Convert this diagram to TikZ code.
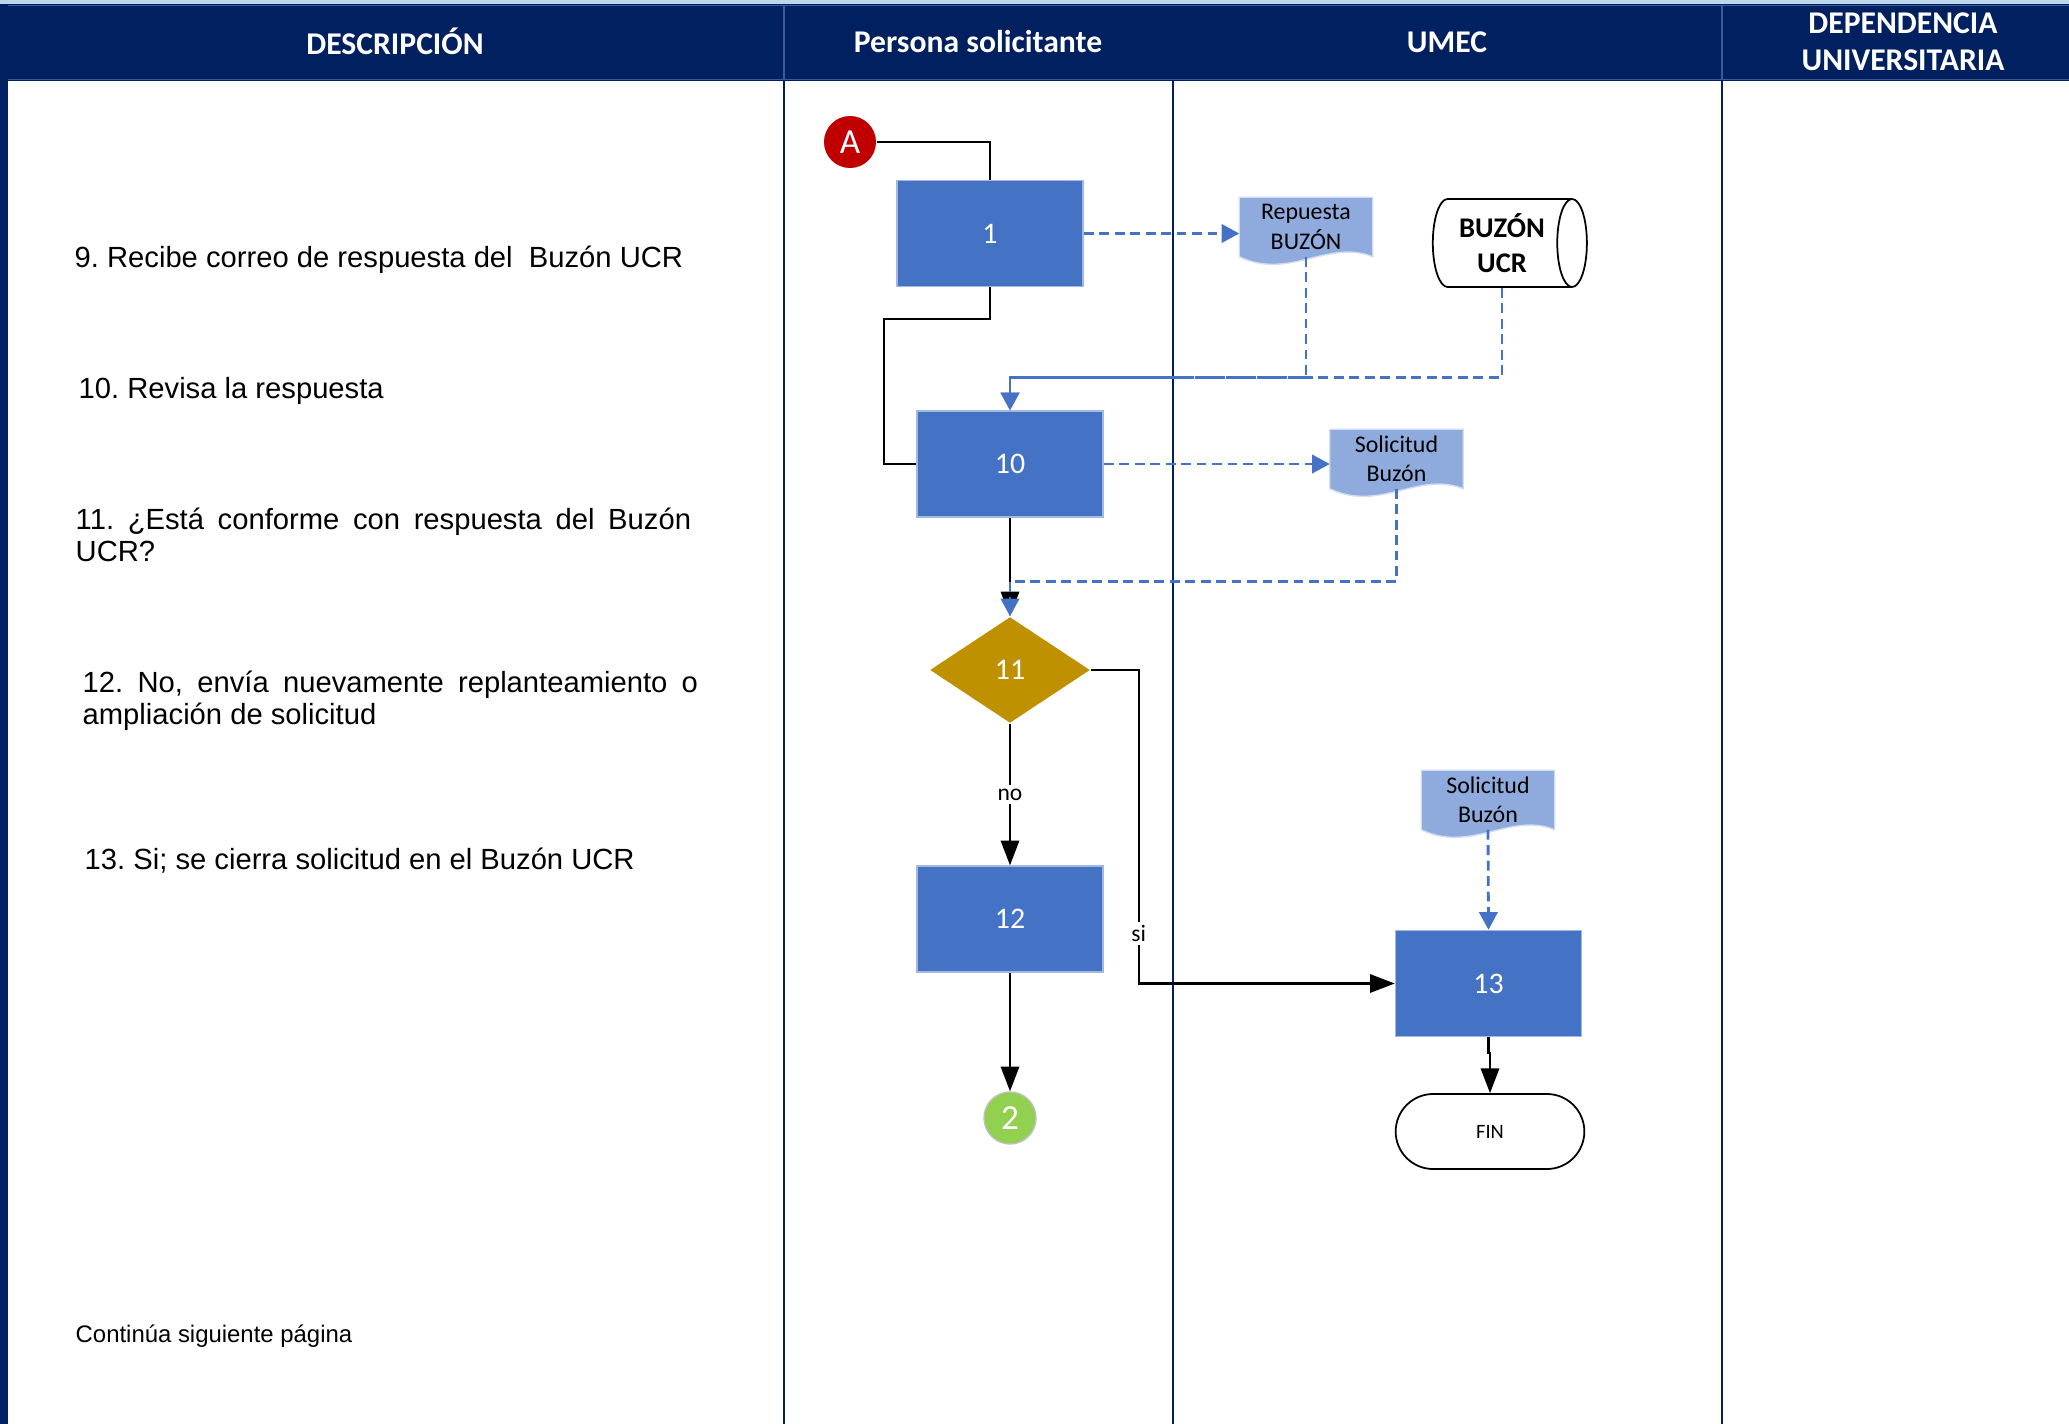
\documentclass[tikz,border=0pt]{standalone}
\usepackage{fontspec}
\setmainfont{Carlito}
\newfontfamily\arialfont{Liberation Sans}
\usetikzlibrary{arrows.meta,shapes.geometric,shapes.misc,backgrounds,calc}
\definecolor{navy}{HTML}{002060}
\definecolor{topband}{HTML}{BDD7EE}
\definecolor{headline}{HTML}{3A5C9C}
\definecolor{boxblue}{HTML}{4472C4}
\definecolor{docblue}{HTML}{8FAADC}
\definecolor{decgold}{HTML}{BF9000}
\definecolor{conred}{HTML}{C00000}
\definecolor{congreen}{HTML}{92D050}
\hyphenpenalty=10000
\exhyphenpenalty=10000
\frenchspacing
\tikzset{
ARC/.style ={draw=black,line width=0.6pt},
ARROW/.style ={ARC,-{Triangle[length=7pt,width=5.2pt]}},
DASHARC/.style ={draw=boxblue,line width=0.8pt,dash pattern=on 2.8pt off 1.6pt,-{Triangle[length=5pt,width=5.2pt]}},
LANE/.style ={draw=navy,line width=0.6pt},
HEAD/.style ={text=white,align=center,font=\bfseries\fontsize{9}{10.5}\selectfont},
DESC/.style ={anchor=west,inner sep=0pt,font=\arialfont\fontsize{8.3}{9.1}\selectfont},
PAR/.style ={DESC,anchor=north west,text width=6.15cm,align=justify},
BOX/.style ={rectangle,fill=boxblue,draw=boxblue!50!white,line width=0.4pt,minimum width=1.86cm,minimum height=1.06cm,text=white,font=\fontsize{8.5}{10}\selectfont},
DEC/.style ={diamond,fill=decgold,minimum width=1.6cm,minimum height=1.06cm,inner sep=0pt,text=white,font=\fontsize{8.5}{10}\selectfont},
DOC/.style ={rectangle,minimum width=1.32cm,minimum height=0.58cm,inner sep=0pt,align=center,font=\fontsize{6.8}{8.3}\selectfont},
DOCFILL/.style ={fill=docblue,draw=docblue!40!white,line width=0.4pt},
CYL/.style ={cylinder,draw,line width=0.5pt,fill=white,aspect=0.5,minimum width=0.88cm,minimum height=1.54cm,inner sep=0pt,align=center,font=\bfseries\fontsize{8.1}{10}\selectfont},
TERM/.style ={rounded rectangle,draw,line width=0.5pt,minimum width=2.12cm,minimum height=0.75cm,font=\fontsize{5.8}{7}\selectfont},
CON/.style ={circle,minimum size=0.52cm,inner sep=0pt,text=white,font=\fontsize{10}{12}\selectfont},
LBL/.style ={fill=white,inner sep=1pt,font=\fontsize{6.7}{8}\selectfont},
}

\begin{document}
\begin{tikzpicture}[x=0.01cm,y=-0.01cm] %Buzon UCR, pasos 9 a 13
\useasboundingbox (0,0) rectangle (2069,1424);
	\fill[topband] (0,0) rectangle (2069,4);
	\fill[navy] (0,4) rectangle (2069,81);
	\fill[navy] (0,4) rectangle (8,1424);
	\draw[headline,line width=0.5pt] (8,5.5) -- (2069,5.5) (8,79.5) -- (2069,79.5) (784,5) -- (784,80) (1722,5) -- (1722,80);
	\draw[LANE] (784,81) -- (784,1424) (1173,81) -- (1173,1424) (1722,81) -- (1722,1424);
	\node[HEAD] (hdesc) at (395,41) {DESCRIPCIÓN};
	\node[HEAD] (hpers) at (978,42) {Persona solicitante};
	\node[HEAD] (humec) at (1447,42) {UMEC};
	\node[HEAD] (hdep) at (1903,42) {DEPENDENCIA\\UNIVERSITARIA};
% descripcion
	\node[DESC] (t9) at (74,260) {9. Recibe correo de respuesta del\ \ Buzón UCR};
	\node[DESC] (t10) at (78,391) {10. Revisa la respuesta};
	\node[PAR] (t11) at (75,507) {11. ¿Está conforme con respuesta del Buzón UCR?};
	\node[PAR] (t12) at (82,670) {12. No, envía nuevamente replanteamiento o ampliación de solicitud};
	\node[DESC] (t13) at (84,861) {13. Si; se cierra solicitud en el Buzón UCR};
	\node[DESC,font=\arialfont\fontsize{6.8}{8}\selectfont] (cont) at (75,1336) {Continúa siguiente página};
% flujo
	\node[CON,fill=conred] (A) at (850,142) {A};
	\node[BOX] (b1) at (990,233.5) {1};
	\node[DOC] (d1) at (1306,227) {Repuesta\\BUZÓN};
	\node[CYL] (cyl) at (1502,243) {BUZÓN\\UCR};
	\node[BOX] (b10) at (1010,464) {10};
	\node[DOC] (d2) at (1396.5,459) {Solicitud\\Buzón};
	\node[DEC] (dec) at (1010,670) {11};
	\node[BOX] (b12) at (1010,919) {12};
	\node[CON,fill=congreen,draw=gray!50] (c2) at (1010,1118) {2};
	\node[DOC] (d3) at (1488,800) {Solicitud\\Buzón};
	\node[BOX] (b13) at (1488.5,983.5) {13};
	\node[TERM] (fin) at (1490,1131.5) {FIN};
\begin{scope}[on background layer]
	\foreach \d in {d1,d2,d3}
		\path[DOCFILL] (\d.north west) -- (\d.north east) -- (\d.south east) .. controls +(-45,-18) and +(50,24) .. (\d.south west) -- cycle;
\end{scope}
	\draw[ARC] (A.east) -| (b1.north);
	\draw[DASHARC] (b1.east) -- (b1.east -| d1.west);
	\draw[DASHARC] (d1.south) |- ($(b10.north)+(0,-33)$) -- (b10.north);
	\draw[DASHARC] (cyl.south) |- ($(b10.north)+(0,-33)$) -- (b10.north);
	\draw[ARC] (b1.south) -- ++(0,32) -| ($(b10.west)+(-32,0)$) -- (b10.west);
	\draw[DASHARC] (b10.east) -- (b10.east -| d2.west);
	\draw[ARROW] (b10.south) -- (dec.north);
	\draw[DASHARC] (d2.south) |- ($(dec.north)+(0,-35)$) -- (dec.north);
	\draw[ARROW] (dec.south) -- node[LBL] {no} (b12.north);
	\draw[ARROW] (b12.south) -- (c2.north);
	\draw[ARROW] (dec.east) -- ++(48,0) |- node[LBL,pos=0.42] {si} (b13.west);
	\draw[DASHARC] (d3.south) -- (b13.north);
	\draw[ARROW] (b13.south) -- ++(0,16) -| (fin.north);
\end{tikzpicture}
\end{document}
